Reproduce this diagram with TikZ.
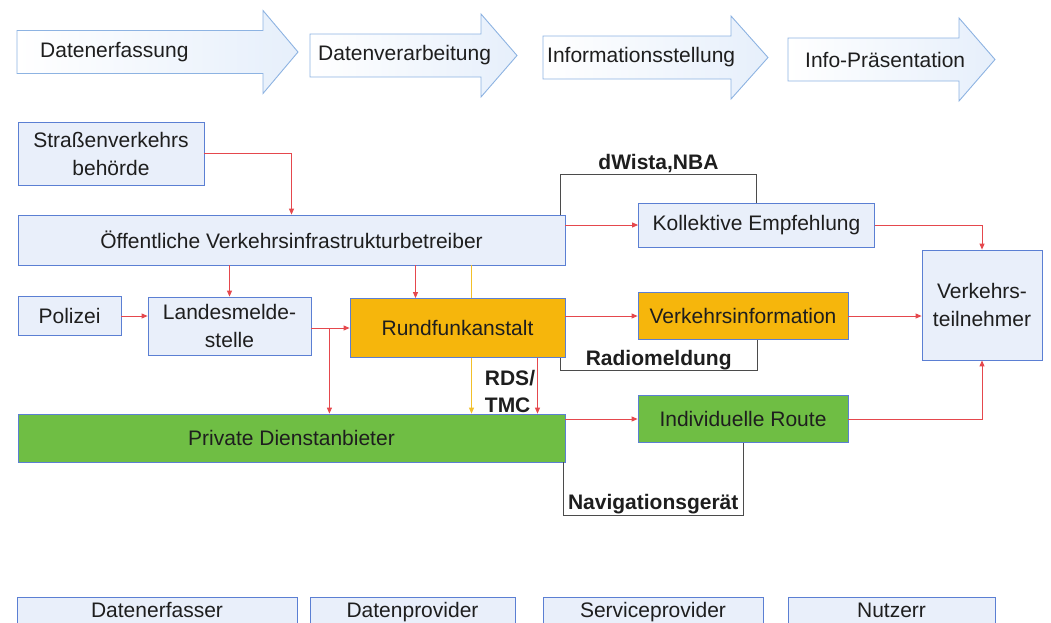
\documentclass[tikz,border=0pt]{standalone}
\usepackage{fontspec}
\setmainfont{Liberation Sans}
\usetikzlibrary{arrows.meta}
\definecolor{boxblue}{HTML}{E9EFFA}
\definecolor{edgeblue}{HTML}{5B7FD3}
\definecolor{arrowblue}{HTML}{8DB3E2}
\definecolor{arrowfill}{HTML}{E6EFFB}
\definecolor{radioorange}{HTML}{F6B60C}
\definecolor{privgreen}{HTML}{6FBE44}
\definecolor{linkred}{HTML}{E5484D}
\definecolor{linkyellow}{HTML}{F2C02A}
\definecolor{inkgray}{HTML}{1E1E1E}
\tikzset{
  txt/.style={font=\fontsize{21}{28}\selectfont, text=inkgray},
  box/.style={txt, draw=edgeblue, fill=boxblue, line width=0.8pt, inner sep=0pt, align=center},
  radiobox/.style={box, fill=radioorange},
  privbox/.style={box, fill=privgreen},
  rolebox/.style={box, text height=13pt, text depth=9pt},
  phase/.style={draw=arrowblue, left color=white, right color=arrowfill, line width=0.9pt},
  phasetxt/.style={txt, inner sep=0pt, anchor=west},
  flow/.style={draw=linkred, line width=0.9pt, -{Triangle[length=6pt,width=5pt]}},
  yellowflow/.style={draw=linkyellow, line width=0.9pt},
  tag/.style={draw=inkgray!80, line width=0.9pt},
  lbl/.style={txt, font=\fontsize{21}{27}\selectfont\bfseries, inner sep=1pt}
}
\begin{document}
\begin{tikzpicture}[x=1pt,y=-1pt]
  \useasboundingbox (0,0) rectangle (1051,622);
  \clip (0,0) rectangle (1051,622);

  % phases
  \draw[phase] (17,30.5) -- (263,30.5) -- (263,10.5) -- (298,52) -- (263,93.5) -- (263,73.5) -- (17,73.5) -- cycle;
  \node[phasetxt] (erfassung) at (40,52) {Datenerfassung};
  \draw[phase] (310,34) -- (481,34) -- (481,14) -- (517,55.5) -- (481,97) -- (481,77) -- (310,77) -- cycle;
  \node[phasetxt] (verarbeitung) at (318,55.5) {Datenverarbeitung};
  \draw[phase] (543,36) -- (731,36) -- (731,16) -- (768,57.5) -- (731,99) -- (731,79) -- (543,79) -- cycle;
  \node[phasetxt] (stellung) at (547,57.5) {Informationsstellung};
  \draw[phase] (788,38) -- (959,38) -- (959,18) -- (995,59.5) -- (959,101) -- (959,81) -- (788,81) -- cycle;
  \node[phasetxt] (praesentation) at (805,59.5) {Info-Präsentation};

  % actors
  \node[box, minimum width=186pt, minimum height=63pt] (strasse) at (111,153.5) {Straßenverkehrs\\behörde};
  \node[box, minimum width=547pt, minimum height=50pt] (oeff) at (291.5,240) {Öffentliche Verkehrsinfrastrukturbetreiber};
  \node[box, minimum width=103pt, minimum height=39pt] (polizei) at (69.5,316) {Polizei};
  \node[box, minimum width=163pt, minimum height=58pt] (landes) at (229.5,326) {Landesmelde-\\stelle};
  \node[radiobox, minimum width=215pt, minimum height=59pt] (rundfunk) at (457.5,328) {Rundfunkanstalt};
  \node[privbox, minimum width=547pt, minimum height=48pt] (private) at (291.5,438) {Private Dienstanbieter};

  % services
  \node[box, minimum width=236pt, minimum height=44pt] (kollektiv) at (756.5,225) {Kollektive Empfehlung};
  \node[radiobox, minimum width=210pt, minimum height=47pt] (verkinfo) at (743,316) {Verkehrsinformation};
  \node[privbox, minimum width=210pt, minimum height=47pt] (route) at (743,419) {Individuelle Route};
  \node[box, minimum width=120pt, minimum height=110pt] (teilnehmer) at (982,305) {Verkehrs-\\teilnehmer};

  % roles
  \node[rolebox, minimum width=280pt, minimum height=36pt] (erfasser) at (157,615) {Datenerfasser};
  \node[rolebox, minimum width=205pt, minimum height=36pt] (datenprov) at (412.5,615) {Datenprovider};
  \node[rolebox, minimum width=220pt, minimum height=36pt] (serviceprov) at (653,615) {Serviceprovider};
  \node[rolebox, minimum width=207pt, minimum height=36pt] (nutzer) at (891.5,615) {Nutzerr};

  % links
  \draw[flow] (strasse.east) -| (oeff.north);
  \draw[flow] (oeff.east |- kollektiv.west) -- (kollektiv.west);
  \draw[flow] (kollektiv.east) -| (teilnehmer.north);
  \draw[tag] ([xshift=-5pt]oeff.north east) -- ++(0,-40) -| node[lbl, pos=0.25, above] (dwista) {dWista,NBA} (kollektiv.north);
  \draw[flow] (oeff.south -| landes.north) -- (landes.north);
  \draw[flow] ([xshift=-42pt]rundfunk.north |- oeff.south) -- ([xshift=-42pt]rundfunk.north);
  \draw[yellowflow] ([xshift=14pt]rundfunk.north |- oeff.south) -- ([xshift=14pt]rundfunk.north);
  \draw[yellowflow, -{Triangle[length=6pt,width=5pt]}] ([xshift=14pt]rundfunk.south) -- ([xshift=14pt]rundfunk.south |- private.north);
  \draw[flow] (polizei.east) -- (landes.west |- polizei.east);
  \draw[flow] (landes.east |- rundfunk.west) -- (rundfunk.west);
  \draw[flow] ([xshift=18pt]landes.east |- rundfunk.west) -- ([xshift=18pt]landes.east |- private.north);
  \draw[flow] ([xshift=80pt]rundfunk.south) -- ([xshift=80pt]rundfunk.south |- private.north);
  \node[lbl, align=left] (rds) at (510,391) {RDS/\\TMC};
  \draw[flow] (rundfunk.east |- verkinfo.west) -- (verkinfo.west);
  \draw[tag] ([xshift=-5pt]rundfunk.south east) -- ++(0,13) -| node[lbl, pos=0.25, above] (radio) {Radiomeldung} ([xshift=14pt]verkinfo.south);
  \draw[flow] (verkinfo.east) -- (teilnehmer.west |- verkinfo.east);
  \draw[flow] (private.east |- route.west) -- (route.west);
  \draw[flow] (route.east) -| (teilnehmer.south);
  \draw[tag] ([xshift=-2pt]private.south east) -- ++(0,53) -| node[lbl, pos=0.25, above] (navi) {Navigationsgerät} (route.south);
\end{tikzpicture}
\end{document}
